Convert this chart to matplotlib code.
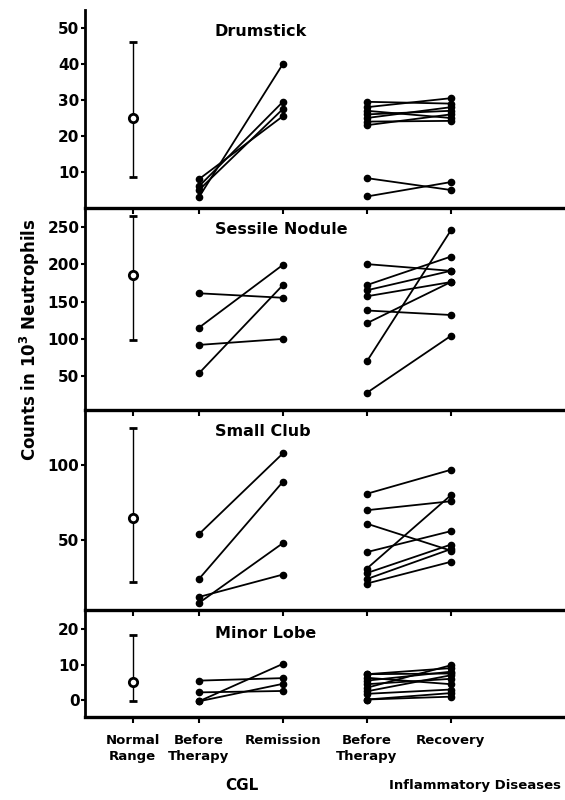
import matplotlib.pyplot as plt

# x categories
categories = ["Normal\nRange", "Before\nTherapy", "Remission", "Before\nTherapy", "Recovery"]
groups = ["CGL", "Inflammatory Diseases"]

panel_titles = ["Drumstick", "Sessile Nodule", "Small Club", "Minor Lobe"]

# normal range: mean, low, high
normal_mean = [25, 186, 65, 5]
normal_low = [8.5, 98, 22, -0.3]
normal_high = [46, 264, 125, 18.3]

# CGL: before therapy -> remission
drum_cgl_before = [8, 6, 3, 5]
drum_cgl_remiss = [25.5, 29.5, 40, 27.5]
sess_cgl_before = [161, 115, 92, 54]
sess_cgl_remiss = [155, 199, 100, 172]
club_cgl_before = [54, 24, 8, 12]
club_cgl_remiss = [108, 89, 48, 27]
minor_cgl_before = [5.5, 2.2, -0.3, -0.3]
minor_cgl_remiss = [6.2, 2.6, 10.2, 4.6]

# inflammatory diseases: before therapy -> recovery
drum_inf_before = [29.5, 28, 27, 26, 25, 24, 23, 8.3, 3.2]
drum_inf_recov = [29, 30.5, 25, 27, 28, 24.2, 26, 5, 7.2]
sess_inf_before = [200, 172, 165, 157, 138, 121, 70, 28]
sess_inf_recov = [191, 210, 191, 176, 132, 176, 245, 104]
club_inf_before = [81, 70, 61, 42, 31, 28, 24, 21]
club_inf_recov = [97, 76, 43, 56, 80, 47, 44, 35.5]
minor_inf_before = [7.3, 7.3, 6.3, 5.5, 4.5, 3.5, 2.5, 1.8, 0.2, 0.2]
minor_inf_recov = [7.5, 9, 4.5, 8, 6, 9.8, 7, 3, 2, 1]

yticks = [[10, 20, 30, 40, 50], [50, 100, 150, 200, 250], [50, 100], [0, 10, 20]]
ylims = [(0, 55), (5, 275), (3.3, 137), (-4.7, 25.3)]

cgl_before = [drum_cgl_before, sess_cgl_before, club_cgl_before, minor_cgl_before]
cgl_remiss = [drum_cgl_remiss, sess_cgl_remiss, club_cgl_remiss, minor_cgl_remiss]
inf_before = [drum_inf_before, sess_inf_before, club_inf_before, minor_inf_before]
inf_recov = [drum_inf_recov, sess_inf_recov, club_inf_recov, minor_inf_recov]

xpos = [0.21, 1, 2, 3, 4]

plt.rcParams["font.family"] = "DejaVu Sans"
plt.rcParams["font.weight"] = "bold"

fig = plt.figure(figsize=(5.65, 8), dpi=100)
# panel edges in figure pixels (top, bottom)
edges = [(10, 208), (208, 410), (410, 610), (610, 717)]
axes = []
for i, (top, bot) in enumerate(edges):
    ax = fig.add_axes([85 / 565, 1 - bot / 800, 1 - 85 / 565, (bot - top) / 800])
    ax.patch.set_visible(False)
    axes.append(ax)

for i, ax in enumerate(axes):
    ax.set_xlim(-0.357, 5.36)
    ax.set_ylim(*ylims[i])
    for s in ["top", "right"]:
        ax.spines[s].set_visible(False)
    ax.spines["left"].set_linewidth(2)
    ax.spines["bottom"].set_linewidth(2.4)

    # normal range
    ax.errorbar([xpos[0]], [normal_mean[i]],
                yerr=[[normal_mean[i] - normal_low[i]], [normal_high[i] - normal_mean[i]]],
                fmt="o", color="black", mfc="white", mec="black", ms=6, mew=2,
                elinewidth=1.0, capsize=3, capthick=1.2)

    for b, r in zip(cgl_before[i], cgl_remiss[i]):
        ax.plot([xpos[1], xpos[2]], [b, r], "-o", color="black", lw=1.3, ms=4.5)
    for b, r in zip(inf_before[i], inf_recov[i]):
        ax.plot([xpos[3], xpos[4]], [b, r], "-o", color="black", lw=1.3, ms=4.5)

    ax.set_yticks(yticks[i])
    ax.set_yticklabels([str(t) for t in yticks[i]], fontsize=11, fontweight="bold")
    ax.tick_params(axis="y", direction="out", length=3, width=1.5, pad=1)
    ax.set_xticks(xpos)
    ax.tick_params(axis="x", direction="out", length=4, width=1.5)
    if i < 3:
        ax.set_xticklabels([])
    else:
        ax.set_xticklabels(categories, fontsize=9.5, fontweight="bold", linespacing=1.3)
        ax.tick_params(axis="x", pad=8)

    ax.text(0.27, 0.93 if i < 3 else 0.85, panel_titles[i], transform=ax.transAxes,
            fontsize=11.5, fontweight="bold", ha="left", va="top")

fig.text(30 / 565, 1 - 340 / 800, "Counts in 10$^3$ Neutrophils", rotation=90,
         fontsize=12, fontweight="bold", ha="center", va="center")
fig.text(242 / 565, 1 - 785 / 800, groups[0], fontsize=11, fontweight="bold",
         ha="center", va="center")
fig.text(561 / 565, 1 - 785 / 800, groups[1], fontsize=9.5, fontweight="bold",
         ha="right", va="center")

fig.savefig("out.png", dpi=100)
